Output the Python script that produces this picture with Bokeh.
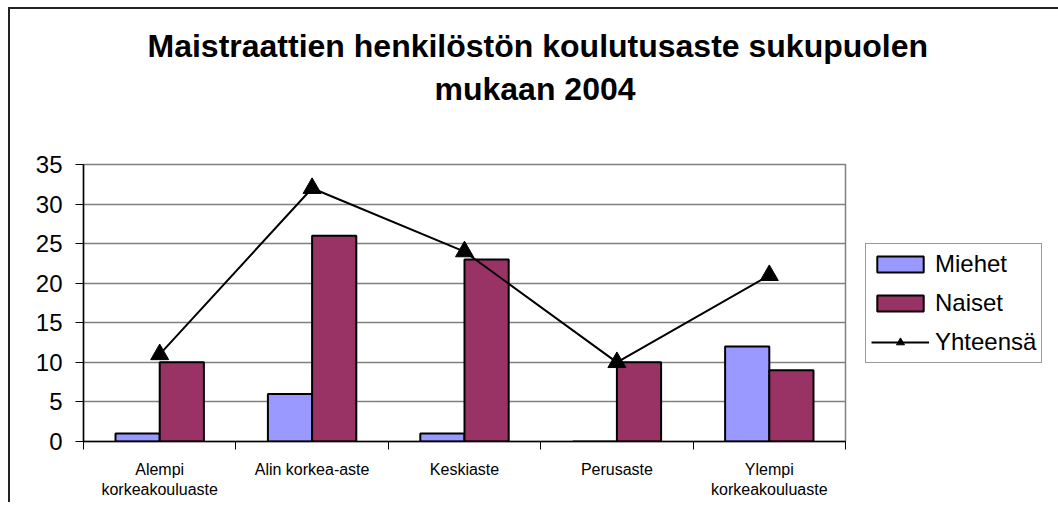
from bokeh.plotting import figure
from bokeh.models import Range1d, FixedTicker, Title, Legend, LegendItem, ColumnDataSource
from bokeh.embed import file_html
from bokeh.resources import INLINE

title_lines = ["Maistraattien henkilöstön koulutusaste sukupuolen", "mukaan 2004"]
categories = ["Alempi\nkorkeakouluaste", "Alin korkea-aste", "Keskiaste", "Perusaste", "Ylempi\nkorkeakouluaste"]
miehet = [1, 6, 1, 0, 12]
naiset = [10, 26, 23, 10, 9]
yhteensa = [11, 32, 24, 10, 21]
y_ticks = [0, 5, 10, 15, 20, 25, 30, 35]
series_names = ["Miehet", "Naiset", "Yhteensä"]

FONT = "Liberation Sans"
n = len(categories)
centers = [i + 0.5 for i in range(n)]
bw = 0.29

src = ColumnDataSource(dict(
    xm=[c - bw / 2 for c in centers],
    xn=[c + bw / 2 for c in centers],
    xc=centers,
    miehet=miehet, naiset=naiset, yhteensa=yhteensa,
))

p = figure(frame_width=762, frame_height=277, output_backend="svg", toolbar_location=None,
           x_range=Range1d(0, n), y_range=Range1d(0, 35),
           min_border_left=73, min_border_right=197, min_border_top=155, min_border_bottom=61)
p.styles = {"border-top": "2px solid #222", "border-left": "2px solid #222",
            "margin-left": "8px", "margin-top": "7px"}
p.background_fill_color = "white"
p.border_fill_color = "white"
p.outline_line_color = "#808080"
p.outline_line_width = 1.5

r_m = p.vbar(x="xm", top="miehet", width=bw, source=src, fill_color="#9999FF",
             line_color="black", line_width=2)
r_n = p.vbar(x="xn", top="naiset", width=bw, source=src, fill_color="#993366",
             line_color="black", line_width=2)
r_l = p.line(x="xc", y="yhteensa", source=src, line_color="black", line_width=2)
r_s = p.scatter(x="xc", y="yhteensa", source=src, marker="triangle", size=18,
                fill_color="black", line_color="black")

# axes
xa = p.xaxis[0]
xa.ticker = FixedTicker(ticks=centers, minor_ticks=list(range(n + 1)))
xa.major_label_overrides = {c: lab for c, lab in zip(centers, categories)}
xa.major_tick_out = 0
xa.major_tick_in = 0
xa.minor_tick_out = 8
xa.minor_tick_in = 0
xa.minor_tick_line_color = "black"
xa.axis_line_color = "black"
xa.axis_line_width = 1.5
xa.major_label_text_font = FONT
xa.major_label_text_font_size = "16px"
xa.major_label_text_color = "black"
xa.major_label_standoff = 11

ya = p.yaxis[0]
ya.ticker = FixedTicker(ticks=y_ticks, minor_ticks=[])
ya.major_tick_out = 8
ya.major_tick_in = 0
ya.major_tick_line_color = "black"
ya.axis_line_color = "black"
ya.axis_line_width = 1.5
ya.major_label_text_font = FONT
ya.major_label_text_font_size = "24px"
ya.major_label_text_color = "black"
ya.major_label_standoff = 13

p.xgrid.grid_line_color = None
p.ygrid.ticker = FixedTicker(ticks=y_ticks)
p.ygrid.grid_line_color = "#808080"
p.ygrid.grid_line_width = 1.5

# title: spacer, then second line, then first line (stacked upward from the frame)
p.add_layout(Title(text=" ", text_font_size="10px", standoff=45), "above")
p.add_layout(Title(text=title_lines[1], align="left", offset=351, standoff=0,
                   text_font=FONT, text_font_size="32px", text_font_style="bold",
                   text_color="black"), "above")
p.add_layout(Title(text=title_lines[0], align="left", offset=64, standoff=10,
                   text_font=FONT, text_font_size="32px", text_font_style="bold",
                   text_color="black"), "above")

legend = Legend(items=[
    LegendItem(label=series_names[0], renderers=[r_m]),
    LegendItem(label=series_names[1], renderers=[r_n]),
    LegendItem(label=series_names[2], renderers=[r_l, r_s]),
], location=(20, 78))
legend.label_text_font = FONT
legend.label_text_font_size = "24px"
legend.label_text_color = "black"
legend.glyph_width = 58
legend.glyph_height = 20
legend.label_height = 30
legend.label_standoff = 6
legend.spacing = 9
legend.padding = 5
legend.margin = 0
legend.border_line_color = "#333333"
legend.border_line_width = 1.5
legend.background_fill_alpha = 1
p.add_layout(legend, "right")

open("out.html", "w").write(file_html(p, INLINE))
